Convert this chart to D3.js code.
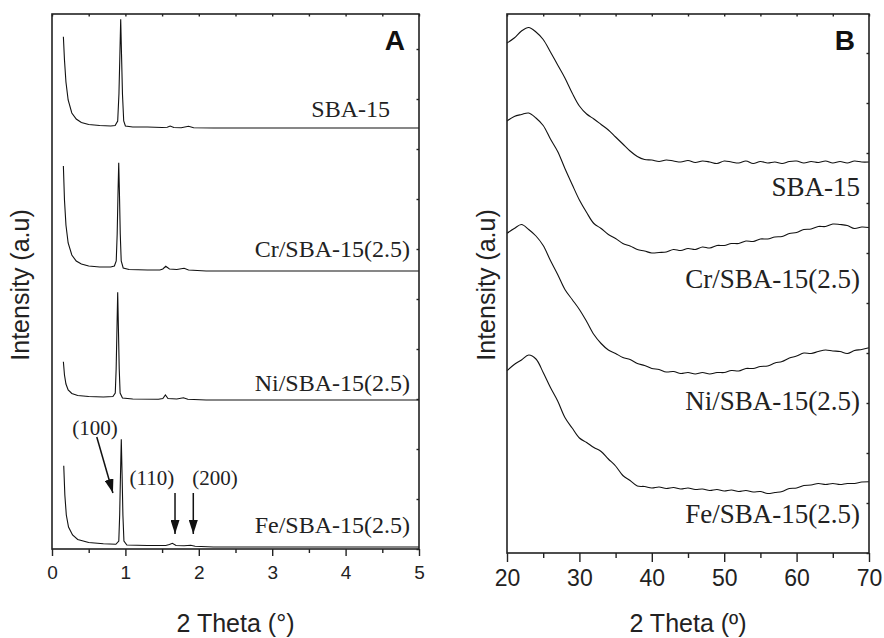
<!DOCTYPE html>
<html>
<head>
<meta charset="utf-8">
<script src="https://cdn.jsdelivr.net/npm/d3@7"></script>
<style>
  body { margin: 0; background: #fff; }
</style>
</head>
<body>
<div id="container"></div>
<script>
// ---------- data ----------
var sampleNames = ["SBA-15", "Cr/SBA-15(2.5)", "Ni/SBA-15(2.5)", "Fe/SBA-15(2.5)"];

// low angle patterns [2theta, intensity a.u.]
var lowSBA = [[0.155,512.3],[0.17,489],[0.19,467],[0.22,449],[0.27,436],[0.33,430],[0.40,426.5],[0.50,424.5],[0.65,423.5],[0.80,423],[0.86,423.5],[0.895,428],[0.912,455],[0.925,495],[0.936,529.7],[0.947,495],[0.96,455],[0.977,428],[1.0,423],[1.1,422],[1.3,422],[1.5,421.5],[1.57,421.7],[1.61,423],[1.66,421.5],[1.76,421.3],[1.86,422.7],[1.93,421.3],[2.2,421],[5.0,421]];
var lowCr = [[0.155,383],[0.17,349],[0.19,324],[0.22,306],[0.27,294],[0.33,288],[0.40,285],[0.50,283],[0.65,282],[0.80,282],[0.85,283],[0.875,288],[0.888,315],[0.899,355],[0.909,386.3],[0.919,355],[0.93,315],[0.943,288],[0.97,281],[1.05,279.5],[1.3,279],[1.47,279],[1.51,280],[1.55,282.7],[1.60,280],[1.70,279.5],[1.80,280.7],[1.86,279],[2.1,278],[5.0,278]];
var lowNi = [[0.155,187.3],[0.17,174],[0.19,165],[0.22,159],[0.27,155.5],[0.35,153.5],[0.50,152.5],[0.70,152],[0.83,152.5],[0.862,156],[0.874,180],[0.885,220],[0.895,256.7],[0.905,220],[0.916,180],[0.928,156],[0.96,151],[1.1,150],[1.45,149.7],[1.51,150.5],[1.545,154],[1.58,150.5],[1.70,150],[1.79,151.3],[1.85,149.7],[2.1,149],[5.0,149]];
var lowFe = [[0.16,83.3],[0.175,54],[0.195,34],[0.225,22],[0.28,14],[0.35,9.5],[0.50,6.5],[0.70,5.2],[0.87,4.7],[0.91,8],[0.922,34],[0.933,74],[0.944,109.7],[0.955,74],[0.966,34],[0.98,8],[1.02,4],[1.3,3.5],[1.55,3.5],[1.6,4.5],[1.64,5.7],[1.69,3.5],[1.80,3.2],[1.89,3.7],[1.95,2.8],[2.2,2],[5.0,2]];

// wide angle patterns, one value per degree from 20 to 70
var wideAngles = d3.range(20, 71);
var wideSBA = [510,515,522,525.5,521,513.5,501,488,475,460,447,439,434,428.5,423,416,409,402,396.5,393.5,393,391.5,393,392,391,392.5,390.5,392,391,389.5,392,391,390,392,389.5,391.5,390,391,389.5,391.5,392,390,391.5,390.5,392,390,391.5,390,392,391,391];
var wideCr = [432,436.5,438.5,440,435,427.5,414,401.5,384.5,368.5,353,340.5,329.5,324.5,318.5,314.5,309.5,307,303.5,302,300,300.5,301,303.5,302.5,304.5,303.5,306,305,307.5,307.5,309.5,309.5,312,311.5,314,314,316,316.5,319.5,320.5,323.5,324,326.5,326.5,329,328.5,327.5,324.5,326,325.5];
var wideNi = [319.7,324.5,328.5,323.5,317,307.5,292.5,278.5,263.5,253.5,243.5,231.5,218.5,209.5,203,199.5,195.5,193.5,189.5,187.5,184.5,183.5,181,181.5,179.5,180.5,179,180.5,179,180.5,180.5,182.5,182,184.5,184.5,186.5,187,190,191.5,195,197,200,199.5,201.5,203,202,201.5,199.5,202.5,203.5,205.3];
var wideFe = [182.3,188.5,193,198,194,180.5,165.5,152,135.5,125,115,110.5,105.5,101.5,94,87,77.5,72.5,67,66.5,65,66,64.5,65.5,64,65,63.5,64,62.5,63.5,62,63,61.5,62.5,61,61.5,59.5,60.5,61.5,64.5,65,67.5,68,69.5,68.5,69.5,68.5,69.5,69.5,71,71.3];

// label anchors (2theta, intensity)
var lowLabelX = [4.605, 4.877, 4.877, 4.877];
var lowLabelY = [432, 292, 158, 16];
var wideLabelX = [68.76, 68.76, 68.76, 68.76];
var wideLabelY = [357, 265, 143, 30];

// reflection annotations in panel A
var hklText = ["(100)", "(110)", "(200)"];
var hklTextX = [0.586, 1.36, 2.22];
var hklTextY = [121, 71, 71];
var hklArrowFrom = [[0.61, 112], [1.676, 56], [1.925, 56]];
var hklArrowTo = [[0.83, 56], [1.676, 15], [1.925, 15]];

// ---------- chart ----------
var width = 884, height = 638;
var svg = d3.select("#container").append("svg")
  .attr("width", width).attr("height", height)
  .style("font-family", "Liberation Sans, Arial, sans-serif");

svg.append("defs").append("marker")
  .attr("id", "arrow")
  .attr("markerUnits", "userSpaceOnUse")
  .attr("viewBox", "0 0 14 9")
  .attr("markerWidth", 14).attr("markerHeight", 9)
  .attr("refX", 14).attr("refY", 4.5)
  .attr("orient", "auto")
  .append("path").attr("d", "M0,0L14,4.5L0,9Z").attr("fill", "#111");

function drawPanel(opt) {
  var x = d3.scaleLinear().domain(opt.xDomain).range([opt.left, opt.right]);
  var y = d3.scaleLinear().domain(opt.yDomain).range([opt.bottom, opt.top]);
  var g = svg.append("g");

  // curves
  var line = d3.line().x(d => x(d[0])).y(d => y(d[1])).curve(opt.curve);
  opt.series.forEach(function (s) {
    g.append("path").attr("d", line(s))
      .attr("fill", "none").attr("stroke", "#111").attr("stroke-width", 1.1);
  });

  // frame
  g.append("rect")
    .attr("x", opt.left).attr("y", opt.top)
    .attr("width", opt.right - opt.left).attr("height", opt.bottom - opt.top)
    .attr("fill", "none").attr("stroke", "#222").attr("stroke-width", 1.6);

  // bottom axis: major + minor ticks
  var gx = g.append("g").attr("transform", "translate(0," + opt.bottom + ")")
    .call(d3.axisBottom(x).tickValues(opt.majors).tickSize(opt.tickLen[0])
      .tickPadding(opt.tickPad).tickFormat(d3.format("d")));
  gx.selectAll(".tick text").style("font-size", opt.tickFont + "px").attr("fill", "#222");
  var gxm = g.append("g").attr("transform", "translate(0," + opt.bottom + ")")
    .call(d3.axisBottom(x).tickValues(opt.minors).tickSize(opt.tickLen[1]).tickFormat(""));
  // top axis: small inward ticks
  var gt = g.append("g").attr("transform", "translate(0," + opt.top + ")")
    .call(d3.axisTop(x).tickValues(opt.minors.concat(opt.majors)).tickSize(-2.5).tickFormat(""));
  // right axis: small inward ticks
  var gr = g.append("g").attr("transform", "translate(" + opt.right + ",0)")
    .call(d3.axisRight(y).ticks(8).tickSize(-2.5).tickFormat(""));
  [gx, gxm, gt, gr].forEach(function (a) {
    a.select(".domain").remove();
    a.selectAll(".tick line").attr("stroke", "#222").attr("stroke-width", 1.4);
  });

  // sample labels
  opt.labelText.forEach(function (t, i) {
    g.append("text")
      .attr("x", x(opt.labelX[i])).attr("y", y(opt.labelY[i]))
      .attr("text-anchor", "end")
      .style("font-family", "Liberation Serif, Times New Roman, serif")
      .style("font-size", opt.labelFont + "px")
      .attr("fill", "#222")
      .text(t);
  });

  // panel letter
  g.append("text")
    .attr("x", opt.right - 14).attr("y", opt.top + 36)
    .attr("text-anchor", "end")
    .style("font-size", "28px").style("font-weight", "bold")
    .attr("fill", "#111")
    .text(opt.letter);

  // axis titles
  g.append("text")
    .attr("x", (opt.left + opt.right) / 2).attr("y", 632)
    .attr("text-anchor", "middle")
    .style("font-size", "25px").attr("fill", "#222")
    .text(opt.xTitle);
  g.append("text")
    .attr("transform", "translate(" + opt.yTitleX + "," + 285 + ") rotate(-90)")
    .attr("text-anchor", "middle")
    .style("font-size", "25px").attr("fill", "#222")
    .text("Intensity (a.u)");

  return { x: x, y: y, g: g };
}

var pA = drawPanel({
  left: 52, right: 419, top: 14, bottom: 549,
  xDomain: [0, 5], yDomain: [0, 535],
  series: [lowSBA, lowCr, lowNi, lowFe], curve: d3.curveLinear,
  majors: [0, 1, 2, 3, 4, 5], minors: [0.5, 1.5, 2.5, 3.5, 4.5],
  tickLen: [7, 4], tickPad: 10,
  tickFont: 19, labelFont: 24,
  labelText: sampleNames, labelX: lowLabelX, labelY: lowLabelY,
  letter: "A", xTitle: "2 Theta (\u00B0)", yTitleX: 29
});

var pB = drawPanel({
  left: 507, right: 869, top: 14, bottom: 553,
  xDomain: [20, 70], yDomain: [0, 539],
  series: [wideSBA, wideCr, wideNi, wideFe].map(s => s.map((v, i) => [wideAngles[i], v])),
  curve: d3.curveCatmullRom,
  majors: [20, 30, 40, 50, 60, 70], minors: [25, 35, 45, 55, 65],
  tickLen: [9, 5], tickPad: 8,
  tickFont: 23, labelFont: 27,
  labelText: sampleNames, labelX: wideLabelX, labelY: wideLabelY,
  letter: "B", xTitle: "2 Theta (\u00BA)", yTitleX: 495
});

// reflection labels and arrows in panel A
hklText.forEach(function (t, i) {
  pA.g.append("text")
    .attr("x", pA.x(hklTextX[i])).attr("y", pA.y(hklTextY[i]))
    .attr("dy", "0.35em").attr("text-anchor", "middle")
    .style("font-family", "Liberation Serif, Times New Roman, serif")
    .style("font-size", "21px").attr("fill", "#222")
    .text(t);
  pA.g.append("line")
    .attr("x1", pA.x(hklArrowFrom[i][0])).attr("y1", pA.y(hklArrowFrom[i][1]))
    .attr("x2", pA.x(hklArrowTo[i][0])).attr("y2", pA.y(hklArrowTo[i][1]))
    .attr("stroke", "#111").attr("stroke-width", 1.5)
    .attr("marker-end", "url(#arrow)");
});
</script>
</body>
</html>
